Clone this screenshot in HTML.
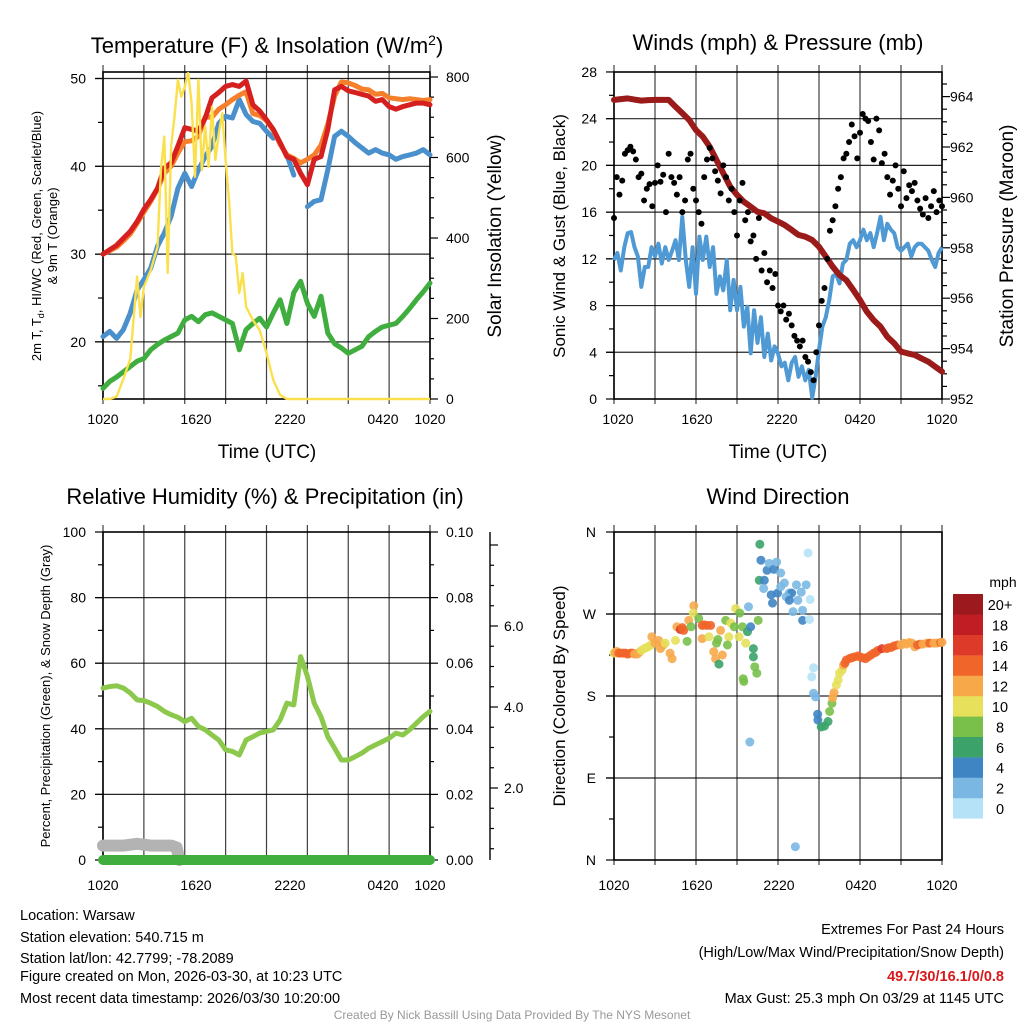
<!DOCTYPE html>
<html><head><meta charset="utf-8"><style>
html,body{margin:0;padding:0;background:#fff;}
svg{display:block;font-family:"Liberation Sans",Arial,sans-serif;}
</style></head><body>
<svg id="fig" width="1024" height="1024" viewBox="0 0 1024 1024" xmlns="http://www.w3.org/2000/svg">
<rect width="1024" height="1024" fill="#fff"/>
<g id="p1"></g>
<g id="p2"></g>
<g id="p3"></g>
<g id="p4"></g>
<text x="267" y="53" font-size="22" text-anchor="middle">Temperature (F) &amp; Insolation (W/m<tspan dy="-8" font-size="14">2</tspan><tspan dy="8">)</tspan></text>
<text x="778" y="50" font-size="22" text-anchor="middle">Winds (mph) &amp; Pressure (mb)</text>
<text x="265" y="504" font-size="22" text-anchor="middle">Relative Humidity (%) &amp; Precipitation (in)</text>
<text x="778" y="504" font-size="22" text-anchor="middle">Wind Direction</text>
<text x="267" y="458" font-size="19" text-anchor="middle">Time (UTC)</text>
<text x="778" y="458" font-size="19" text-anchor="middle">Time (UTC)</text>
<text transform="translate(41,236) rotate(-90)" font-size="13" text-anchor="middle">2m T, T<tspan font-size="9" dy="3">d</tspan><tspan dy="-3">, HI/WC (Red, Green, Scarlet/Blue)</tspan></text>
<text transform="translate(57,236) rotate(-90)" font-size="13" text-anchor="middle">&amp; 9m T (Orange)</text>
<text transform="translate(501,236) rotate(-90)" font-size="19" text-anchor="middle">Solar Insolation (Yellow)</text>
<text transform="translate(565,236) rotate(-90)" font-size="17" text-anchor="middle">Sonic Wind &amp; Gust (Blue, Black)</text>
<text transform="translate(1013,236) rotate(-90)" font-size="19" text-anchor="middle">Station Pressure (Maroon)</text>
<text transform="translate(50,696) rotate(-90)" font-size="13" text-anchor="middle">Percent, Precipitation (Green), &amp; Snow Depth (Gray)</text>
<text transform="translate(565,696) rotate(-90)" font-size="17" text-anchor="middle">Direction (Colored By Speed)</text>
<text x="1003" y="587" font-size="14" text-anchor="middle">mph</text>
<g font-size="14.5">
<text x="20" y="920">Location: Warsaw</text>
<text x="20" y="942">Station elevation: 540.715 m</text>
<text x="20" y="963">Station lat/lon: 42.7799; -78.2089</text>
<text x="20" y="981">Figure created on Mon, 2026-03-30, at 10:23 UTC</text>
<text x="20" y="1003">Most recent data timestamp: 2026/03/30 10:20:00</text>
</g>
<g font-size="14.5" text-anchor="end">
<text x="1004" y="934">Extremes For Past 24 Hours</text>
<text x="1004" y="957">(High/Low/Max Wind/Precipitation/Snow Depth)</text>
<text x="1004" y="981" fill="#d7191c" font-weight="bold">49.7/30/16.1/0/0.8</text>
<text x="1004" y="1003">Max Gust: 25.3 mph On 03/29 at 1145 UTC</text>
</g>
<text x="512" y="1019" font-size="12" fill="#999" text-anchor="middle">Created By Nick Bassill Using Data Provided By The NYS Mesonet</text>
</svg>
<script>
// ---- data ----
const halfHours = [];
for (let i = 0; i <= 48; i++) halfHours.push(i * 0.5);
const temp2m = [30.0,30.5,31,31.8,32.6,33.7,35.1,36.2,37.5,39.8,40.4,42.3,44.4,44.2,44,45.5,47.8,48.4,49.1,49.3,49.1,49.7,47,46.3,45.3,44.2,42.7,41.1,40.8,39.2,37.9,40.8,41.1,44.2,48.7,49.1,48.6,48.4,48.2,48,47.4,47.6,46.8,46.5,46.8,47,47.2,47.2,47];
const temp9m = [30,30.4,30.8,31.5,32.3,33.5,34.8,36,37.4,39.2,40,41.5,42.8,42.9,43.4,45.6,45.6,46.5,47,47.6,48.1,48.5,46,45.8,45.2,44.1,42.5,41.3,40.9,40.4,40.8,41.3,42.4,44.8,48,49.6,49.5,49.2,48.8,48.7,48.2,48.3,47.8,47.7,47.6,47.7,47.6,47.5,47.6];
const windChill = [20.6,21.2,20.4,21.4,23.3,25.9,27.1,28.4,30.9,32.4,34.3,37.5,39.2,37.7,39.6,41.1,42.3,44.9,45.7,45.5,47.6,45.9,45.1,44.9,44,43.2,null,41.3,39,null,35.4,36,36.2,39.6,43.4,44,43.4,42.7,42.1,41.5,41.9,41.5,41.3,40.8,41.1,41.3,41.5,41.9,41.3];
const dewPoint = [14.7,15.5,16,16.6,17.2,17.8,18.1,19.1,19.7,20.2,20.6,21,22.5,22.9,22.3,23.1,23.3,22.9,22.5,22.1,19.1,21.4,22.1,22.7,21.7,23.3,24.8,22.1,25.6,26.9,24.4,22.9,25.2,21,19.8,19.3,18.7,19.1,19.5,20.6,21.2,21.7,21.9,22.1,22.9,23.8,24.8,25.7,26.7];
const solarHours = [0,0.5,1,1.5,2,2.5,2.75,3,3.5,4,4.25,4.5,4.75,5,5.25,5.5,5.75,6,6.25,6.5,6.75,7,7.25,7.5,7.75,8,8.25,8.5,8.75,9,9.25,9.5,9.75,10,10.25,10.5,11,11.5,12,12.5,13,13.5,24];
const solarVals = [0,0,6,50,100,304,204,279,320,378,569,652,313,627,701,793,751,776,810,735,552,793,569,677,577,726,594,660,710,594,494,362,354,263,313,229,196,171,114,47,10,0,0];
const pressure = [963.87,963.9,963.93,963.88,963.84,963.86,963.87,963.87,963.87,963.6,963.34,963.07,962.67,962.41,962.01,961.48,960.96,960.43,960.1,959.83,959.63,959.43,959.37,959.17,959.04,958.9,958.71,958.51,958.44,958.31,958.04,957.65,957.25,956.92,956.72,956.33,955.93,955.47,955.13,954.87,954.47,954.21,953.88,953.81,953.75,953.61,953.48,953.28,953.09];
const sonicWind = [11.9,12.5,11,13,14.2,14.3,13,12.2,9.6,11.3,11.3,13,12.2,13.3,11.6,13,11.9,12.7,13.6,11.9,15.6,11.9,9.6,13,9,13.9,11.9,13.9,11.3,13,9,10.5,9.3,11.9,7.6,10.2,7.6,9.6,6.2,7.9,3.9,7.6,4.8,7,3.6,5.6,3.3,4.5,3.9,2.8,3.1,1.6,3.1,3.6,1.9,2.8,1.6,2.5,0.1,1.9,4.2,6.2,7,8.5,10.5,10.7,9.9,11.6,11.9,13.3,13.6,13,13.6,14.5,13.6,14.2,13,14.2,15.6,13.6,15,14.5,14.2,13,12.7,13,13.3,12.2,13,13.3,13.3,13,12.7,11.9,11.3,12.5,13];
const gustVals = [15.5,19,17.5,18.7,21,21.3,21.6,21.2,20.5,19,19.3,17,18,18.4,16.5,18.5,20,18.6,19.2,16,21,19,18.5,17.5,19,16,17,20.5,21,18,17,16,15,19,20.5,21.5,20.6,19.5,18.7,17.6,20,19,17,18,16,14,17,18.5,15.3,16,13.5,14,12,15.5,11,12.5,10,11,9.5,10.7,8,7.5,8,6.8,7.3,6.3,5.4,5,4.5,5,3.6,3.2,2.3,1.6,4,6.3,8.4,9.5,12,14.4,15.3,16.5,18,19,20.6,21,22,23.5,22.5,20.6,22.8,24.4,24,23.8,22,20.5,24,23,20.2,21,19,17.5,18.7,20,18,16.5,19.5,17.2,18.3,17.8,18.5,17,16.3,15.8,17.2,15.5,16.5,17.8,16,17,16.5];
const relHum = [52.4,52.9,53.1,52.4,50.9,48.8,48.6,47.8,46.8,45.3,44.3,43.5,42.2,43.2,40.7,39.7,38.1,36.6,33.6,33.1,32,36.6,37.6,38.7,39.2,39.7,42.7,47.8,47.3,62,56,47.8,43.7,37.6,34.1,30.5,30.5,31.5,32.6,34.1,35.1,36.1,37.1,38.7,38.1,39.7,41.7,43.7,45.3];
const precipVals = [0,0,0,0,0,0,0,0,0,0,0,0,0,0,0,0,0,0,0,0,0,0,0,0,0,0,0,0,0,0,0,0,0,0,0,0,0,0,0,0,0,0,0,0,0,0,0,0,0];
const snowHours = [0,0.5,1,1.5,2,2.5,3,3.5,4,4.5,5,5.4,5.6];
const snowDepth = [0.8,0.8,0.8,0.8,0.85,0.9,0.85,0.8,0.8,0.8,0.8,0.7,0];
const dirHours = [0,0.1,0.2,0.35,0.5,0.7,0.85,1.0,1.2,1.35,1.5,1.7,1.85,2.0,2.2,2.35,2.5,2.7,2.77,3.0,3.26,3.4,3.6,3.75,4.1,4.25,4.5,4.6,4.85,5.0,5.1,5.35,5.47,5.64,5.84,5.8,6.2,6.45,6.6,6.8,7.07,6.45,6.95,7.3,7.43,7.68,7.5,7.6,7.8,7.93,8.17,8.4,8.3,8.54,8.8,8.9,9.15,9.2,9.4,9.64,9.77,10.0,10.2,10.2,10.3,10.45,9.5,9.45,10.55,9.84,9.94,10.67,10.75,10.63,11.0,11.2,11.36,11.7,11.9,10.95,11.5,11.6,11.97,12.2,12.47,12.83,13.0,13.35,13.45,13.1,13.7,13.8,13.8,14.06,14.2,14.35,14.3,12.2,12.6,12.83,13.27,14.6,14.47,14.6,14.75,14.9,14.92,15.16,15.4,15.66,15.78,15.95,16.0,16.1,16.27,16.4,16.5,16.7,16.8,16.9,17.0,17.25,17.4,17.6,17.86,18.0,18.2,18.4,18.6,18.8,19.0,19.15,19.3,19.6,19.95,20.1,20.3,20.5,20.75,21.0,21.2,21.4,21.6,21.8,22.0,22.2,22.4,22.6,22.9,23.1,23.4,23.6,23.9,24];
const dirDeg = [227,228,229,227,227,227,227,226,227,227,226,226,228,230,232,233,234,236,245,238,241,232,236,238,227,221,241,256,253,255,252,240,263,256,279,271,265,257.5,258,257.5,257.5,243,245,228.7,221,215,238,242,252,225,263,245,236,260,256,276,245,271,256,238,250.6,256,232,223,212,205,196,199,263,278,129.5,346.5,329,307,307,318,325.6,319,327,298,291,282,293,315,304,293,293,302,285,272.6,294,274,263,302,337,286,264,300,289,285,14.6,211,201,183,179,160,153.6,146,147,152,163,172,178,183.7,192,197.6,205,208.5,214,216,219.5,221.3,222,223,224,223,222,221,223,225,227,228,230,232,232,233,233.4,235,236,236,238,237,238.7,238,234,236,237,237,238,238,238,238,238.7,239];
const dirSpeed = [10,12,12,14,14,15,15,14,14,14,12,12,12,11,10,10,10,10,12,12,12,12,12,10,12,12,10,12,16,14,14,8,12,8,12,10,8,15,14,14,15,12,10,12,12,6,8,8,12,12,8,10,8,10,8,10,10,8,8,10,6,4,6,6,8,8,8,8,8,3,2,6,4,6,4,4,3,4,3,3,4,4,4,3,2,3,4,3,3,3,2,3,4,2,1,1,1,3,3,4,2,1,1,2,3,4,4,6,6,6,8,8,12,12,10,10,10,10,12,14,14,14,14,15,15,15,14,14,14,14,14,14,15,16,14,14,14,14,14,12,12,12,12,12,12,14,14,12,12,14,12,12,14,12,12,12,12];
const speedColors = ['#b5e2f7','#7ab8e3','#3f85c3','#3ba36a','#79c04a','#e6e05a','#f7a94a','#f0652a','#de3a2a','#c11d25','#9c1a1d'];
const speedLabels = ['0','2','4','6','8','10','12','14','16','18','20+'];

// ---- scales ----
const X1 = h => 103 + h * 327 / 24;
const X2 = h => 614 + h * 328 / 24;
const yTemp = v => 78.5 + (50 - v) * 8.78;
const ySolar = v => 399 - v * 0.4025;
const yWind = v => 399 - v * 11.68;
const yPres = v => 399 - (v - 952) * 25.2;
const yRH = v => 860 - v * 3.28;
const yPrecip = v => 860 - v * 3280;
const ySnowAxis = v => 869 - v * 40.5;
const ySnow = v => 860 - v * 18;
const yDir = v => 860 - v * 328 / 360;

const NS = 'http://www.w3.org/2000/svg';
function mk(tag, attrs, parent) {
  const e = document.createElementNS(NS, tag);
  for (const k in attrs) e.setAttribute(k, attrs[k]);
  parent.appendChild(e);
  return e;
}
function pathFrom(xs, ys, xf, yf) {
  let d = '', pen = false;
  for (let i = 0; i < xs.length; i++) {
    if (ys[i] === null) { pen = false; continue; }
    d += (pen ? 'L' : 'M') + xf(xs[i]).toFixed(1) + ',' + yf(ys[i]).toFixed(1);
    pen = true;
  }
  return d;
}
const quarterHours = sonicWind.map((_, i) => i * 0.25);
const gustHours = gustVals.map((_, i) => i * 24 / (gustVals.length - 1));

function frame(g, x0, x1, y0, y1, hlines) {
  for (let i = 0; i <= 8; i++) {
    const x = x0 + (x1 - x0) * i / 8;
    const l = mk('line', {x1: x, x2: x, y1: y0 - 7, y2: y1 + 5, stroke: '#000', 'stroke-width': 1.2, 'stroke-opacity': 0.75}, g);
    
    
  }
  hlines.forEach(y => {
    const l = mk('line', {x1: x0 - 8, x2: x1, y1: y, y2: y, stroke: '#000', 'stroke-width': 1.2, 'stroke-opacity': 0.85}, g);
    
    
  });
  const r = mk('rect', {x: x0, y: y0, width: x1 - x0, height: y1 - y0, fill: 'none', stroke: '#000', 'stroke-width': 1.6}, g);
  
  
}
function tickText(g, x, y, txt, anchor, size) {
  const t = mk('text', {x: x, y: y, 'font-size': size || 14, 'text-anchor': anchor}, g);
  t.textContent = txt;
  
  
  return t;
}
function tick(g, x1, y1, x2, y2) {
  const l = mk('line', {x1: x1, y1: y1, x2: x2, y2: y2, stroke: '#000', 'stroke-width': 1.2}, g);
  
  
}
function xLabels(g, pos, y) {
  const labs = ['1020', '1620', '2220', '0420', '1020'];
  labs.forEach((s, i) => tickText(g, pos[i], y, s, 'middle'));
}

// ---- panel 1 ----
const p1 = document.getElementById('p1');
frame(p1, 103, 430, 72, 399, [20, 30, 40, 50].map(yTemp));
for (let v = 15; v <= 50; v += 5) tick(p1, v % 10 ? 98 : 95, yTemp(v), 103, yTemp(v));
[20, 30, 40, 50].forEach(v => tickText(p1, 86, yTemp(v) + 5, String(v), 'end'));
for (let w = 0; w <= 800; w += 50) tick(p1, 430, ySolar(w), w % 200 ? 434 : 438, ySolar(w));
[0, 200, 400, 600, 800].forEach(w => tickText(p1, 446, ySolar(w) + 5, String(w), 'start'));
xLabels(p1, [103, 196, 290, 383, 430], 424);
const series1 = [
  [dewPoint, '#3fae3f', 5, 'dewpoint-line'],
  [windChill, '#4a90cc', 5, 'windchill-line'],
  [temp9m, '#f57f2a', 5, 'temp-9m-line'],
  [temp2m, '#d62020', 5, 'temp-2m-line']
];
series1.forEach(s => {
  const p = mk('path', {d: pathFrom(halfHours, s[0], X1, yTemp), fill: 'none', stroke: s[1], 'stroke-width': s[2], 'stroke-linejoin': 'round', 'stroke-linecap': 'round'}, p1);
  
  
});
const sol = mk('path', {d: pathFrom(solarHours, solarVals, X1, ySolar), fill: 'none', stroke: '#fbe04e', 'stroke-width': 2.4, 'stroke-linejoin': 'round'}, p1);



// ---- panel 2 ----
const p2 = document.getElementById('p2');
frame(p2, 614, 942, 72, 399, [4, 8, 12, 16, 20, 24].map(yWind));
for (let v = 0; v <= 28; v += 2) tick(p2, v % 4 ? 609 : 606, yWind(v), 614, yWind(v));
for (let v = 0; v <= 28; v += 4) tickText(p2, 597, yWind(v) + 5, String(v), 'end');
for (let p = 952; p <= 964.5; p += 0.5) tick(p2, 942, yPres(p), p % 2 ? 947 : 950, yPres(p));
for (let p = 952; p <= 964; p += 2) tickText(p2, 950, yPres(p) + 5, String(p), 'start');
xLabels(p2, [618, 697, 782, 860, 942], 424);
const sw = mk('path', {d: pathFrom(quarterHours, sonicWind, X2, yWind), fill: 'none', stroke: '#4f9ad4', 'stroke-width': 4, 'stroke-linejoin': 'round'}, p2);


const pr = mk('path', {d: pathFrom(halfHours, pressure, X2, yPres), fill: 'none', stroke: '#9b1b1b', 'stroke-width': 6, 'stroke-linejoin': 'round', 'stroke-linecap': 'round'}, p2);


gustVals.forEach((v, i) => {
  const c = mk('circle', {cx: X2(gustHours[i]), cy: yWind(v), r: 3, fill: '#000'}, p2);
  
  
});

// ---- panel 3 ----
const p3 = document.getElementById('p3');
frame(p3, 103, 430, 532, 860, [20, 40, 60, 80].map(yRH));
for (let v = 0; v <= 100; v += 10) tick(p3, v % 20 ? 98 : 95, yRH(v), 103, yRH(v));
for (let v = 0; v <= 100; v += 20) tickText(p3, 86, yRH(v) + 5, String(v), 'end');
for (let v = 0; v <= 0.1001; v += 0.01) tick(p3, 430, yPrecip(v), Math.round(v * 100) % 2 ? 434 : 438, yPrecip(v));
for (let v = 0; v <= 0.1001; v += 0.02) tickText(p3, 446, yPrecip(v) + 5, v.toFixed(2), 'start');
const sax = mk('line', {x1: 490, x2: 490, y1: 532, y2: 860, stroke: '#000', 'stroke-width': 1.4}, p3);


for (let v = 0.5; v <= 8; v += 0.5) tick(p3, 490, ySnowAxis(v), v % 2 ? 494 : 498, ySnowAxis(v));
[2, 4, 6].forEach(v => tickText(p3, 504, ySnowAxis(v) + 5, v.toFixed(1), 'start'));
xLabels(p3, [103, 196, 290, 383, 430], 890);
const sn = mk('path', {d: pathFrom(snowHours, snowDepth, X1, ySnow), fill: 'none', stroke: '#b3b3b3', 'stroke-width': 12, 'stroke-linejoin': 'round', 'stroke-linecap': 'round'}, p3);


const pc = mk('path', {d: pathFrom(halfHours, precipVals, X1, yPrecip), fill: 'none', stroke: '#3fae3f', 'stroke-width': 10, 'stroke-linecap': 'round'}, p3);


const rh = mk('path', {d: pathFrom(halfHours, relHum, X1, yRH), fill: 'none', stroke: '#8cc84b', 'stroke-width': 5, 'stroke-linejoin': 'round', 'stroke-linecap': 'round'}, p3);



// ---- panel 4 ----
const p4 = document.getElementById('p4');
frame(p4, 614, 942, 532, 860, [90, 180, 270].map(yDir));
for (let d = 0; d <= 360; d += 45) tick(p4, d % 90 ? 609 : 606, yDir(d), 614, yDir(d));
['N', 'E', 'S', 'W', 'N'].forEach((s, i) => tickText(p4, 596, yDir(i * 90) + 5, s, 'end'));
xLabels(p4, [614, 697, 779, 861, 942], 890);
dirHours.forEach((h, i) => {
  const idx = dirSpeed[i] < 2 ? 0 : Math.min(10, Math.floor(dirSpeed[i] / 2));
  const c = mk('circle', {cx: X2(h), cy: yDir(dirDeg[i]), r: 4.5, fill: speedColors[idx], 'fill-opacity': 0.9}, p4);
  
  
});
speedColors.forEach((col, i) => {
  const y = 594 + (10 - i) * 20.4;
  const r = mk('rect', {x: 953, y: y, width: 30, height: 20.6, fill: col}, p4);
  
  
  tickText(p4, 1000, y + 16, speedLabels[i], 'middle', 14.5);
});
</script>
</body></html>
